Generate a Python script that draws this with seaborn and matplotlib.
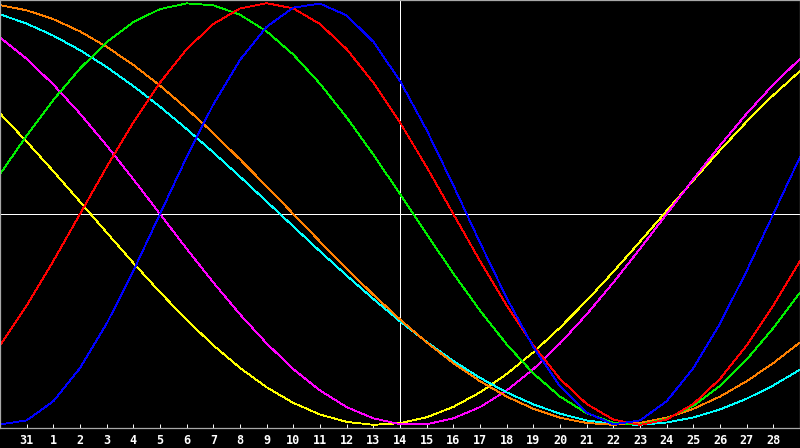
import pandas as pd
import matplotlib
matplotlib.use("Agg")
import matplotlib.pyplot as plt
import seaborn as sns

# day index 0 = Jan 30 ... 30 = Mar 1 ; cross-hair on index 15 (day 14)
day_index = list(range(31))
tick_index = list(range(1, 30))
tick_labels = ["31", "1", "2", "3", "4", "5", "6", "7", "8", "9", "10",
               "11", "12", "13", "14", "15", "16", "17", "18", "19", "20",
               "21", "22", "23", "24", "25", "26", "27", "28"]
today_index = 15

# cycle values (-1 .. 1)
physical = [-0.998, -0.979, -0.888, -0.731, -0.520, -0.270, 0.000, 0.270, 0.520, 0.731,
            0.888, 0.979, 0.998, 0.942, 0.817, 0.631, 0.398, 0.136, -0.136, -0.398,
            -0.631, -0.817, -0.942, -0.998, -0.979, -0.888, -0.731, -0.520, -0.270, 0.000,
            0.270]
emotional = [-0.623, -0.434, -0.223, 0.000, 0.223, 0.434, 0.623, 0.782, 0.901, 0.975,
             1.000, 0.975, 0.901, 0.782, 0.623, 0.434, 0.223, 0.000, -0.223, -0.434,
             -0.623, -0.782, -0.901, -0.975, -1.000, -0.975, -0.901, -0.782, -0.623, -0.434,
             -0.223]
intellectual = [0.189, 0.372, 0.541, 0.690, 0.815, 0.910, 0.972, 0.999, 0.990, 0.945,
                0.866, 0.756, 0.618, 0.458, 0.282, 0.095, -0.095, -0.282, -0.458, -0.618,
                -0.756, -0.866, -0.945, -0.990, -0.999, -0.972, -0.910, -0.815, -0.690, -0.541,
                -0.372]
intuitive = [0.837, 0.736, 0.614, 0.476, 0.325, 0.165, 0.000, -0.165, -0.325, -0.476,
             -0.614, -0.736, -0.837, -0.916, -0.969, -0.997, -0.997, -0.969, -0.916, -0.837,
             -0.736, -0.614, -0.476, -0.325, -0.165, 0.000, 0.165, 0.325, 0.476, 0.614,
             0.736]
aesthetic = [0.477, 0.343, 0.203, 0.058, -0.088, -0.232, -0.371, -0.502, -0.623, -0.730,
             -0.822, -0.896, -0.951, -0.986, -1.000, -0.992, -0.964, -0.915, -0.846, -0.759,
             -0.656, -0.539, -0.411, -0.274, -0.131, 0.015, 0.160, 0.302, 0.438, 0.564,
             0.678]
awareness = [0.991, 0.966, 0.924, 0.866, 0.793, 0.707, 0.609, 0.500, 0.383, 0.259,
             0.131, 0.000, -0.131, -0.259, -0.383, -0.500, -0.609, -0.707, -0.793, -0.866,
             -0.924, -0.966, -0.991, -1.000, -0.991, -0.966, -0.924, -0.866, -0.793, -0.707,
             -0.609]
spiritual = [0.947, 0.903, 0.846, 0.777, 0.697, 0.607, 0.509, 0.403, 0.292, 0.177,
             0.059, -0.059, -0.177, -0.292, -0.403, -0.509, -0.607, -0.697, -0.777, -0.846,
             -0.903, -0.947, -0.979, -0.996, -1.000, -0.989, -0.965, -0.927, -0.876, -0.813,
             -0.738]

series = {
    "Aesthetic": aesthetic,
    "Intuitive": intuitive,
    "Spiritual": spiritual,
    "Awareness": awareness,
    "Intellectual": intellectual,
    "Emotional": emotional,
    "Physical": physical,
}
palette = {
    "Physical": "#0000ff",
    "Emotional": "#ff0000",
    "Intellectual": "#00f000",
    "Intuitive": "#ff00ff",
    "Aesthetic": "#ffff00",
    "Awareness": "#ff8000",
    "Spiritual": "#00ffff",
}

frames = [pd.DataFrame({"day": day_index, "value": vals, "cycle": name})
          for name, vals in series.items()]
df = pd.concat(frames, ignore_index=True)

sns.set_theme(style="dark")
fig = plt.figure(figsize=(8, 4.48), dpi=100, facecolor="black")
ax = fig.add_axes([0, 20 / 448, 1, 428 / 448])
ax.set_facecolor("black")

ax.axvline(today_index, color="white", linewidth=0.65, antialiased=False, zorder=1)
ax.axhline(0, color="white", linewidth=0.65, antialiased=False, zorder=1)

sns.lineplot(data=df, x="day", y="value", hue="cycle", hue_order=list(series.keys()),
             palette=palette, estimator=None, linewidth=0.6, legend=False,
             antialiased=False, ax=ax, zorder=2)

ax.set_xlim(0, 30)
ax.set_ylim(-1.015, 1.015)
ax.set_xlabel("")
ax.set_ylabel("")
ax.set_yticks([])
ax.set_xticks(tick_index)
ax.set_xticklabels(tick_labels, color="white", fontweight="bold",
                   family="DejaVu Sans Mono", fontsize=8.5)
ax.tick_params(axis="x", direction="in", length=3, width=0.7, color="white",
               pad=4, bottom=True)
ax.grid(False)

for spine in ax.spines.values():
    spine.set_visible(True)
    spine.set_edgecolor("#a8a8a8")
    spine.set_linewidth(0.9)

fig.savefig("out.png", dpi=100, facecolor="black")
